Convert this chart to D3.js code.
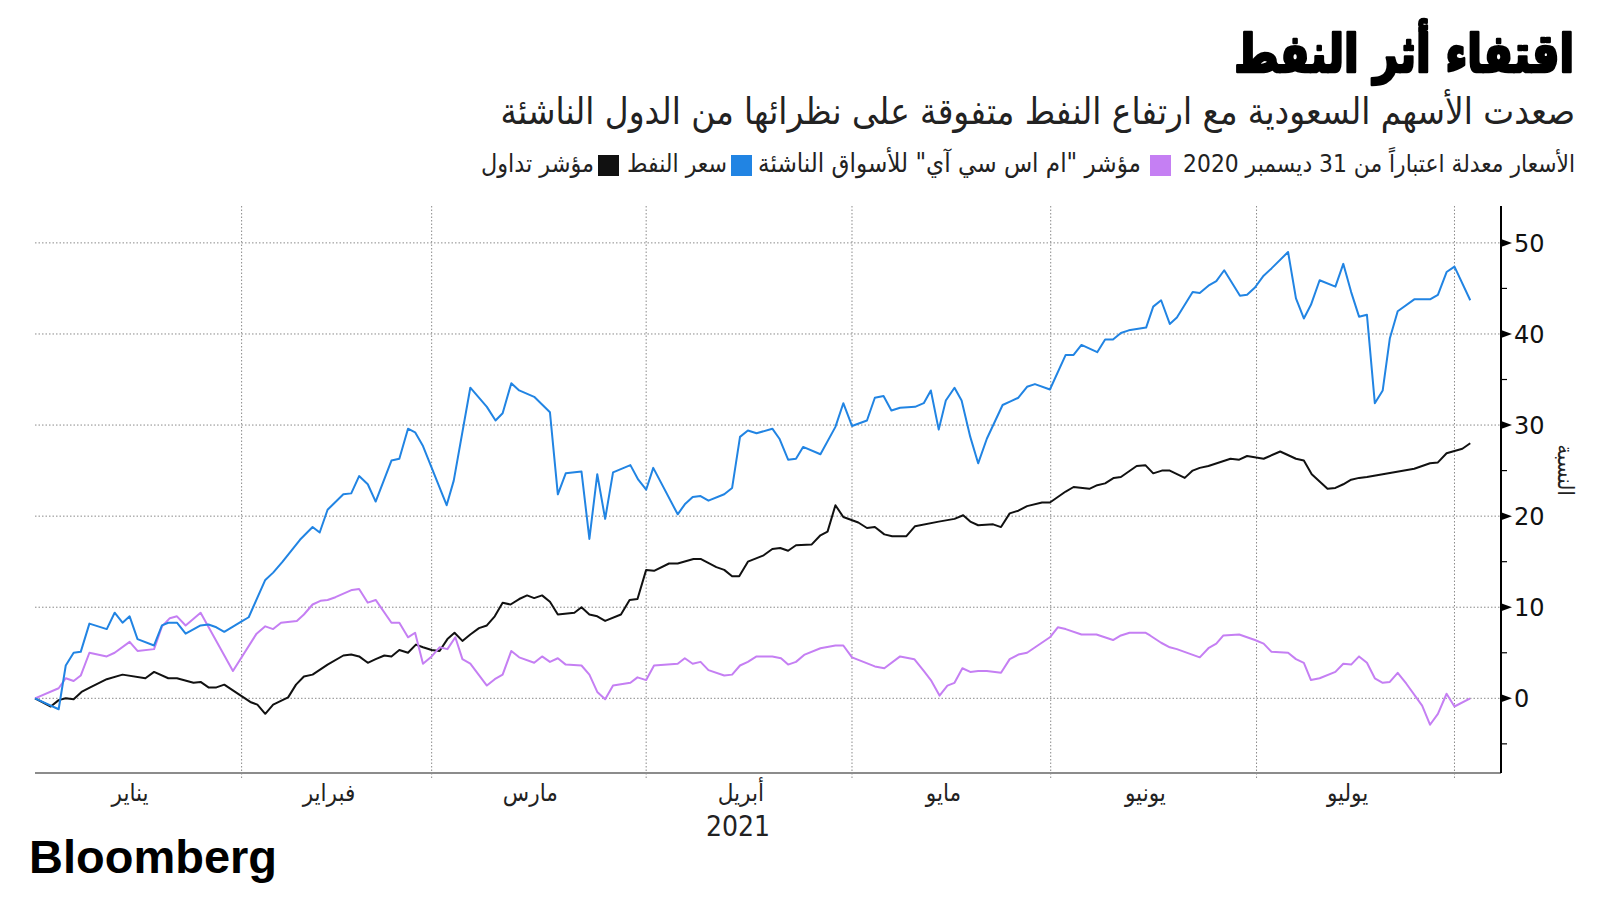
<!DOCTYPE html>
<html lang="ar">
<head>
<meta charset="utf-8">
<script src="https://cdn.jsdelivr.net/npm/d3@7"></script>
<style>
  html, body { margin: 0; padding: 0; background: #fff; }
  svg { display: block; }
  .ar { font-family: "DejaVu Sans Condensed", "DejaVu Sans", sans-serif; font-stretch: condensed; }
</style>
</head>
<body>
<svg id="chart" width="1600" height="900"></svg>
<script>
// ---------------- DATA (x = trading session since 31 Dec 2020, y = % change) ----------------
const tadawulSession = [0,2.0,3.0,3.9,4.9,5.9,7.0,9.1,11.1,14.0,15.1,16.9,18.0,20.1,21.0,22.0,23.0,24.0,26.1,27.3,28.2,29.2,30.2,32.1,33.1,34.1,35.2,37.1,39.1,40.1,41.1,42.2,43.2,44.3,45.2,46.2,47.3,48.3,49.2,50.3,51.3,52.3,53.2,54.2,55.2,56.3,57.3,58.3,59.3,60.3,61.4,62.4,63.3,64.3,65.3,66.3,68.4,69.3,70.3,71.3,72.3,74.3,75.4,76.4,77.5,78.5,80.4,81.5,83.5,84.4,86.4,87.4,88.4,89.3,90.4,92.4,93.5,94.5,95.5,96.5,98.5,99.6,100.5,101.5,102.5,104.4,105.5,106.5,107.7,108.7,110.5,111.6,114.6,116.6,117.7,118.6,119.6,121.5,122.5,123.6,124.7,125.8,127.7,128.7,129.7,130.7,131.7,133.7,134.7,135.7,136.8,137.7,139.7,140.8,141.8,142.9,143.9,145.8,146.8,147.7,148.8,151.6,152.7,153.7,155.8,157.9,159.9,160.9,161.9,163.9,164.9,165.9,166.9,167.9,168.9,174.9,176.9,177.9,179.0,181.0,182.0];
const tadawulPct = [0,-0.9,-0.2,0.0,-0.1,0.7,1.2,2.1,2.6,2.2,2.9,2.2,2.2,1.7,1.8,1.2,1.2,1.5,0.3,-0.4,-0.7,-1.7,-0.7,0.1,1.5,2.4,2.6,3.7,4.7,4.8,4.6,3.9,4.3,4.7,4.6,5.3,5.0,5.9,5.6,5.3,5.2,6.5,7.2,6.3,7.0,7.7,8.0,9.0,10.5,10.3,10.9,11.3,11.0,11.3,10.6,9.2,9.4,10.0,9.2,9.0,8.5,9.2,10.8,10.9,14.1,14.0,14.8,14.8,15.3,15.3,14.4,14.1,13.4,13.4,15.0,15.7,16.4,16.5,16.2,16.8,16.9,17.9,18.3,21.2,19.9,19.3,18.7,18.8,18.0,17.8,17.8,18.9,19.4,19.7,20.1,19.4,19.0,19.1,18.8,20.3,20.6,21.1,21.5,21.5,22.1,22.7,23.2,23.0,23.4,23.6,24.2,24.3,25.5,25.6,24.7,25.0,25.0,24.2,25.0,25.3,25.5,26.3,26.2,26.6,26.3,27.1,26.3,26.1,24.6,23.0,23.1,23.5,24.0,24.2,24.3,25.2,25.8,25.9,26.9,27.4,28.0];

const oilSession = [0,3.0,3.9,4.9,5.8,6.9,9.1,10.1,11.1,12.0,13.0,15.1,16.1,16.9,18.0,19.1,21.0,22.0,23.0,24.0,26.1,27.1,29.2,30.2,31.4,33.6,35.2,36.1,37.1,39.1,40.1,41.1,42.2,43.2,45.2,46.2,47.3,48.2,49.2,52.2,53.1,55.2,57.3,58.4,59.3,60.4,61.4,63.3,65.3,66.3,67.3,69.3,70.3,71.3,72.3,73.3,75.5,76.5,77.5,78.4,81.5,82.4,83.4,84.4,85.4,87.4,88.4,89.4,90.4,91.5,93.5,94.4,95.5,96.5,97.4,99.6,101.5,102.5,103.6,105.5,106.5,107.6,108.6,109.7,111.6,112.7,113.6,114.6,115.5,116.6,117.5,118.6,119.6,120.7,122.7,123.7,124.7,125.8,126.8,128.7,130.7,131.7,132.7,134.7,135.7,136.7,137.7,138.7,140.9,141.8,142.8,143.9,144.8,146.8,147.7,148.8,149.8,150.8,152.8,153.7,154.7,155.8,156.8,158.9,159.9,160.9,161.8,162.9,164.9,165.9,166.9,167.9,168.9,169.9,170.9,171.8,172.8,174.9,175.9,176.9,177.9,179.0,180.0,182.0];
const oilPct = [0,-1.2,3.6,5.0,5.1,8.2,7.6,9.4,8.3,9.0,6.5,5.8,8.0,8.3,8.3,7.1,8.0,8.1,7.8,7.3,8.4,8.9,13.0,13.8,15.0,17.4,18.8,18.2,20.7,22.4,22.5,24.4,23.5,21.6,26.1,26.3,29.6,29.2,27.7,21.2,23.9,34.1,32.0,30.5,31.3,34.6,33.8,33.1,31.4,22.4,24.7,24.9,17.5,24.6,19.7,24.8,25.6,24.0,22.9,25.3,20.2,21.3,22.1,22.2,21.7,22.4,23.1,28.7,29.4,29.1,29.6,28.5,26.2,26.3,27.6,26.8,29.8,32.4,29.9,30.5,33.0,33.2,31.6,31.9,32.0,32.4,33.8,29.5,32.7,34.1,32.7,28.7,25.8,28.5,32.2,32.6,33.0,34.2,34.5,33.9,37.7,37.7,38.8,38.0,39.4,39.4,40.1,40.4,40.7,43.0,43.7,41.1,41.8,44.6,44.5,45.3,45.8,47.0,44.2,44.3,45.1,46.4,47.2,49.0,43.9,41.7,43.2,45.9,45.2,47.7,44.6,41.9,42.1,32.4,33.8,39.5,42.5,43.8,43.8,43.8,44.3,46.8,47.4,43.7];

const msciSession = [0,3.0,3.9,4.9,5.8,6.9,9.1,10.1,12.0,13.0,15.1,16.1,17.1,18.0,19.1,21.0,25.1,28.1,29.2,30.2,31.2,33.2,34.1,35.2,36.2,37.1,38.1,40.2,41.1,42.2,43.2,45.2,46.2,47.3,48.2,49.2,50.3,51.3,52.3,53.3,54.2,55.2,57.3,58.3,59.3,60.4,61.4,63.3,64.3,65.3,66.3,67.3,69.3,70.3,71.3,72.3,73.3,75.5,76.4,77.5,78.5,81.5,82.4,83.4,84.4,85.4,87.4,88.4,89.4,90.4,91.5,93.5,94.6,95.5,96.5,97.6,99.6,101.5,102.5,103.6,106.5,107.7,109.7,111.5,112.7,113.6,114.7,115.7,116.6,117.6,118.6,119.6,120.7,122.5,123.6,124.7,125.8,128.7,129.7,130.7,132.7,134.6,136.7,137.7,138.8,140.8,141.4,142.8,143.9,144.8,147.7,148.8,149.8,150.7,152.7,153.7,154.7,155.8,156.8,158.9,159.9,160.9,161.8,162.9,164.9,165.9,166.9,167.9,168.9,169.9,170.9,171.8,172.8,173.9,175.9,176.9,177.9,179.0,180.0,182.0];
const msciPct = [0,1.1,2.2,1.9,2.5,5.0,4.6,5.0,6.2,5.2,5.4,7.9,8.8,9.0,8.0,9.4,3.0,7.1,7.9,7.6,8.3,8.5,9.2,10.3,10.7,10.8,11.1,11.9,12.0,10.5,10.8,8.3,8.3,6.7,7.2,3.8,4.6,5.6,5.4,6.7,4.3,3.8,1.4,2.1,2.6,5.2,4.5,3.9,4.6,4.0,4.4,3.7,3.6,2.6,0.7,-0.1,1.4,1.7,2.3,2.0,3.6,3.8,4.4,3.8,4.0,3.1,2.5,2.6,3.6,4.0,4.6,4.6,4.4,3.7,4.0,4.8,5.5,5.8,5.8,4.5,3.5,3.3,4.6,4.3,3.0,2.0,0.3,1.4,1.7,3.3,2.9,3.0,3.0,2.8,4.3,4.8,5.0,6.7,7.8,7.6,7.0,7.0,6.4,6.9,7.2,7.2,6.9,6.1,5.6,5.4,4.5,5.5,6.0,6.9,7.0,6.7,6.4,6.0,5.1,5.0,4.3,3.9,2.0,2.2,2.9,3.8,3.7,4.6,3.9,2.2,1.7,1.8,2.8,1.6,-0.8,-2.9,-1.7,0.5,-0.9,0.0];

// month boundaries (session position) and labels
const monthBoundaries = [26.2, 50.3, 77.5, 103.6, 128.8, 154.9, 180.0];
const monthLabels = ["يناير", "فبراير", "مارس", "أبريل", "مايو", "يونيو", "يوليو"];
const yearLabel = "2021";
const yMajorTicks = [0, 10, 20, 30, 40, 50];
const yMinorTicks = [-5, 5, 15, 25, 35, 45];

const titleText = "اقتفاء أثر النفط";
const subtitleText = "صعدت الأسهم السعودية مع ارتفاع النفط متفوقة على نظرائها من الدول الناشئة";
const noteText = "الأسعار معدلة اعتباراً من 31 ديسمبر 2020";
const seriesNames = ["مؤشر \"ام اس سي آي\" للأسواق الناشئة", "سعر النفط", "مؤشر تداول"];
const seriesColors = ["#c57ff3", "#2184e3", "#111111"];
const yAxisTitle = "النسبة";

// ---------------- LAYOUT ----------------
const svg = d3.select("#chart");
const plotLeft = 35, plotRight = 1501, plotTop = 206, plotBottom = 773;

const x = d3.scaleLinear().domain([0, 185.9]).range([plotLeft, plotRight]);
const y = d3.scaleLinear().domain([-8.2, 54.05]).range([plotBottom, plotTop]);

// grid: horizontal
svg.append("g").selectAll("line").data(yMajorTicks).join("line")
  .attr("x1", plotLeft).attr("x2", plotRight)
  .attr("y1", d => y(d)).attr("y2", d => y(d))
  .attr("stroke", "#8a8a8a").attr("stroke-width", 1).attr("stroke-dasharray", "1.5,2");

// grid: vertical (month boundaries)
svg.append("g").selectAll("line").data(monthBoundaries).join("line")
  .attr("x1", d => x(d)).attr("x2", d => x(d))
  .attr("y1", plotTop).attr("y2", plotBottom + 6)
  .attr("stroke", "#8a8a8a").attr("stroke-width", 1).attr("stroke-dasharray", "1.5,2");

// x axis line
svg.append("line")
  .attr("x1", plotLeft).attr("x2", plotRight)
  .attr("y1", plotBottom).attr("y2", plotBottom)
  .attr("stroke", "#8c8c8c").attr("stroke-width", 2.2);

// month labels placed inside each month
const bounds = [0, ...monthBoundaries];
svg.append("g").selectAll("text").data(monthLabels).join("text")
  .attr("class", "ar")
  .attr("x", (d, i) => x(bounds[i] + 0.46 * (bounds[i + 1] - bounds[i])))
  .attr("y", 801)
  .attr("text-anchor", "middle")
  .attr("font-size", 24)
  .attr("fill", "#222")
  .text(d => d);

svg.append("text")
  .attr("class", "ar")
  .attr("x", 738).attr("y", 836)
  .attr("text-anchor", "middle")
  .attr("font-size", 28)
  .attr("fill", "#222")
  .text(yearLabel);

// y axis (right)
svg.append("line")
  .attr("x1", plotRight).attr("x2", plotRight)
  .attr("y1", plotTop).attr("y2", plotBottom)
  .attr("stroke", "#000").attr("stroke-width", 2);

svg.append("g").selectAll("path").data(yMajorTicks).join("path")
  .attr("d", d => `M${plotRight},${y(d) - 4}L${plotRight + 11},${y(d)}L${plotRight},${y(d) + 4}Z`)
  .attr("fill", "#000");

svg.append("g").selectAll("line").data(yMinorTicks).join("line")
  .attr("x1", plotRight).attr("x2", plotRight + 6)
  .attr("y1", d => y(d)).attr("y2", d => y(d))
  .attr("stroke", "#000").attr("stroke-width", 1.2);

svg.append("g").selectAll("text").data(yMajorTicks).join("text")
  .attr("x", plotRight + 13)
  .attr("y", d => y(d))
  .attr("dy", "0.36em")
  .attr("font-family", "DejaVu Sans, sans-serif")
  .attr("font-size", 24)
  .attr("fill", "#111")
  .text(d => d);

svg.append("text")
  .attr("class", "ar")
  .attr("transform", "translate(1566,470) rotate(90)")
  .attr("text-anchor", "middle")
  .attr("dy", "0.35em")
  .attr("font-size", 22)
  .attr("fill", "#222")
  .text(yAxisTitle);

// lines
const line = d3.line().x(d => x(d[0])).y(d => y(d[1]));
const series = [
  { xs: tadawulSession, ys: tadawulPct, color: seriesColors[2] },
  { xs: msciSession, ys: msciPct, color: seriesColors[0] },
  { xs: oilSession, ys: oilPct, color: seriesColors[1] }
];
svg.append("g").selectAll("path").data(series).join("path")
  .attr("d", s => line(d3.zip(s.xs, s.ys)))
  .attr("fill", "none")
  .attr("stroke", s => s.color)
  .attr("stroke-width", 2)
  .attr("stroke-linejoin", "round");

// ---------------- TEXT: title, subtitle, legend ----------------
function fitWidth(sel, target) {
  const w = sel.node().getComputedTextLength();
  const fs = parseFloat(sel.attr("font-size"));
  sel.attr("font-size", fs * target / w);
}

const title = svg.append("text")
  .attr("class", "ar")
  .attr("x", 0).attr("y", 0)
  .attr("text-anchor", "end")
  .attr("font-size", 50).attr("font-weight", "bold")
  .attr("fill", "#000")
  .attr("stroke", "#000").attr("stroke-width", 2.4).attr("stroke-linejoin", "round")
  .text(titleText);
fitWidth(title, 340);
title.attr("transform", "translate(1574,72) scale(1,1.12)");

const subtitle = svg.append("text")
  .attr("class", "ar")
  .attr("x", 1575).attr("y", 124)
  .attr("text-anchor", "end")
  .attr("font-size", 28)
  .attr("fill", "#222")
  .text(subtitleText);
fitWidth(subtitle, 1075);

// legend: each label sized to the span it has in the original, swatch on its right (RTL)
const legendG = svg.append("g");
const legendY = 172;
const legendRight = [1575, 1141, 727, 594];      // right edge of each label
const legendWidth = [392, 383, 100, 113];        // width of each label
const legendTexts = [noteText, ...seriesNames];
legendTexts.forEach((t, i) => {
  const el = legendG.append("text")
    .attr("class", "ar")
    .attr("x", legendRight[i]).attr("y", legendY)
    .attr("text-anchor", "end")
    .attr("font-size", 20)
    .attr("fill", "#222")
    .text(t);
  fitWidth(el, legendWidth[i]);
  if (i > 0) {
    legendG.append("rect")
      .attr("x", legendRight[i] + (i === 1 ? 9 : 4)).attr("y", legendY - 17)
      .attr("width", 21).attr("height", 21)
      .attr("fill", seriesColors[i - 1]);
  }
});

// Bloomberg logo
svg.append("text")
  .attr("x", 29).attr("y", 873)
  .attr("font-family", "Liberation Sans, Arial, sans-serif")
  .attr("font-weight", "bold")
  .attr("font-size", 46)
  .attr("textLength", 248)
  .attr("lengthAdjust", "spacingAndGlyphs")
  .attr("fill", "#000")
  .text("Bloomberg");
</script>
</body>
</html>
